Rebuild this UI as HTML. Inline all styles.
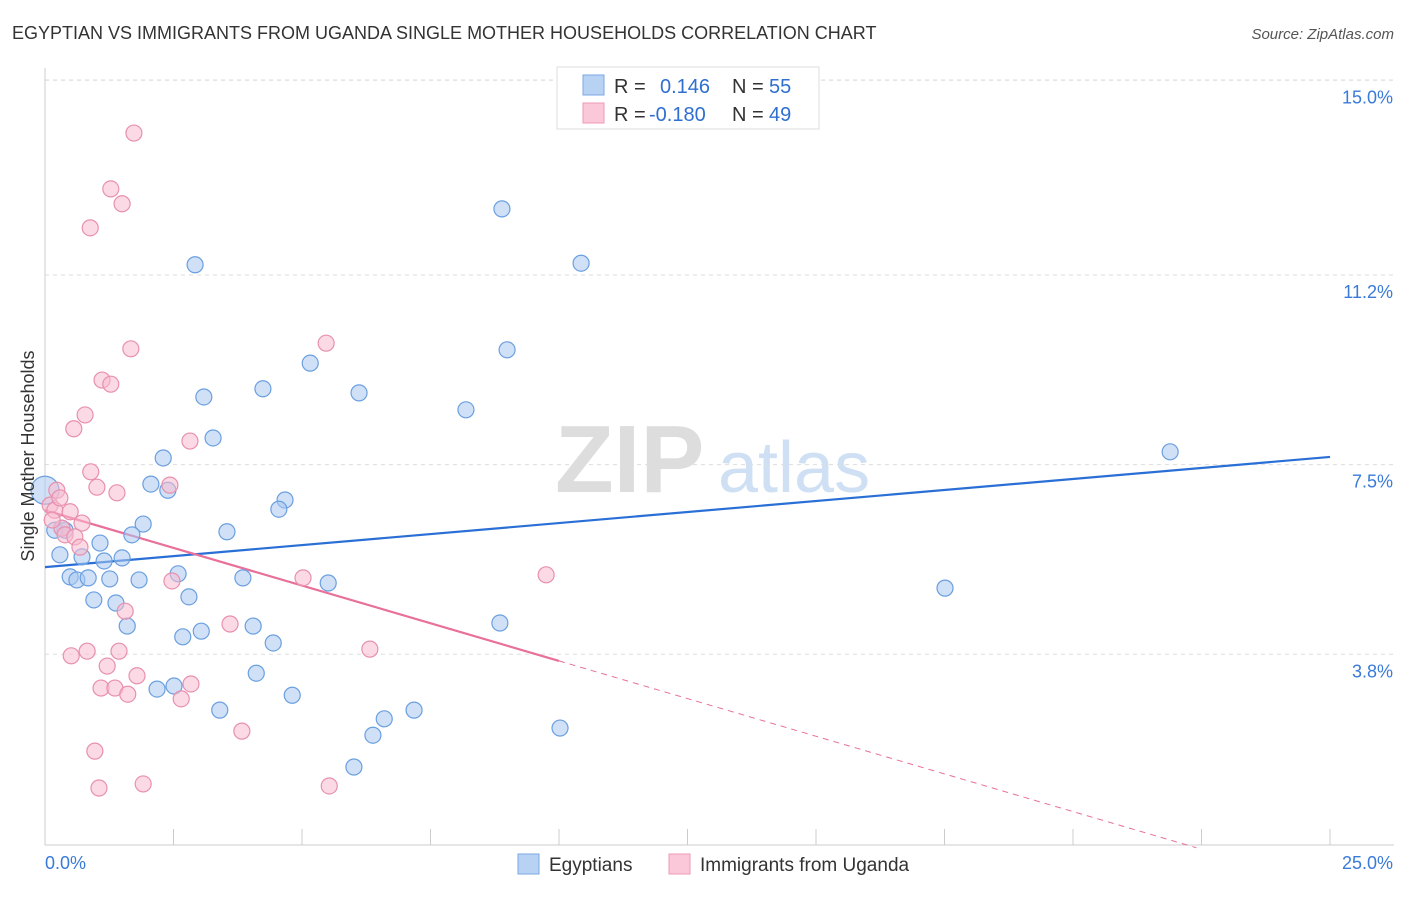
<!DOCTYPE html>
<html><head><meta charset="utf-8"><style>
body{margin:0;background:#fff;font-family:"Liberation Sans",sans-serif}
svg text{font-family:"Liberation Sans",sans-serif}
</style></head><body>
<svg id="chart" width="1406" height="892" xmlns="http://www.w3.org/2000/svg">
<text x="12" y="39" font-size="18" fill="#333">EGYPTIAN VS IMMIGRANTS FROM UGANDA SINGLE MOTHER HOUSEHOLDS CORRELATION CHART</text>
<text x="1394" y="39" font-size="15" fill="#555" text-anchor="end" font-style="italic">Source: ZipAtlas.com</text>
<g><text x="555" y="492" font-size="96" fill="#ddd" font-family="Liberation Serif" font-weight="bold">ZIP</text><text x="718" y="492" font-size="72" fill="#cfe0f5">atlas</text></g>
<g id="grid"></g><g id="axes"></g><g id="lines"></g><g id="pts"></g>
<text transform="translate(34,456) rotate(-90)" font-size="18" fill="#333" text-anchor="middle">Single Mother Households</text>
<g>
<rect x="557" y="67" width="262" height="62" fill="#fff" stroke="#ddd"/>
<rect x="583" y="75" width="21" height="20" fill="#b8d2f4" stroke="#7aa8e4"/>
<rect x="583" y="103" width="21" height="20" fill="#fac8d8" stroke="#ee9ab6"/>
<text x="614" y="93" font-size="20" fill="#333">R =</text><text x="660" y="93" font-size="20" fill="#2f6fd0">0.146</text>
<text x="732" y="93" font-size="20" fill="#333">N =</text><text x="769" y="93" font-size="20" fill="#2f6fd0">55</text>
<text x="614" y="121" font-size="20" fill="#333">R =</text><text x="649" y="121" font-size="20" fill="#2f6fd0">-0.180</text>
<text x="732" y="121" font-size="20" fill="#333">N =</text><text x="769" y="121" font-size="20" fill="#2f6fd0">49</text>
</g>
<g>
<rect x="518" y="854" width="21" height="20" fill="#b8d2f4" stroke="#7aa8e4"/>
<text x="549" y="871" font-size="19" fill="#333">Egyptians</text>
<rect x="669" y="854" width="21" height="20" fill="#fac8d8" stroke="#ee9ab6"/>
<text x="700" y="871" font-size="19" fill="#333">Immigrants from Uganda</text>
</g>
</svg>
<script>
const yTicks=[3.8,7.5,11.2,15.0];
const yTickLabels=["3.8%","7.5%","11.2%","15.0%"];
const xTickLabels=["0.0%","25.0%"];
const blueX=[8.89,10.43,2.92,8.99,5.16,4.24,6.11,3.09,8.19,21.89,3.27,2.30,2.06,2.39,4.67,4.55,1.91,3.54,1.69,0.39,0.19,0.33,0.0,1.07,0.29,0.72,1.15,1.50,0.49,0.62,0.84,1.26,1.83,2.59,3.85,5.51,17.51,0.95,2.80,1.38,1.60,4.05,2.68,3.04,4.44,8.85,4.11,2.18,2.51,4.81,3.40,7.18,6.60,6.38,10.02,6.01];
const blueY=[12.49,11.43,11.40,9.74,9.48,8.98,8.90,8.82,8.57,7.75,8.02,7.63,7.12,7.00,6.81,6.63,6.34,6.19,6.13,6.22,6.22,6.26,7.00,5.97,5.74,5.70,5.62,5.68,5.31,5.25,5.29,5.27,5.25,5.37,5.29,5.19,5.09,4.86,4.92,4.80,4.35,4.35,4.14,4.25,4.02,4.41,3.43,3.12,3.18,3.00,2.71,2.71,2.54,2.22,2.36,1.60];
const pinkX=[1.73,1.28,1.50,0.88,5.47,1.67,1.11,1.28,0.78,0.56,2.82,0.89,2.43,1.01,1.40,0.23,0.10,0.19,0.49,0.72,0.33,0.39,0.58,0.68,5.02,9.75,2.47,1.56,3.60,6.32,0.51,0.82,1.44,1.21,1.79,1.09,1.36,1.61,2.84,2.65,3.83,0.97,1.91,1.05,5.53,0.29,0.14];
const pinkY=[13.97,12.88,12.59,12.12,9.87,9.76,9.15,9.07,8.47,8.20,7.96,7.36,7.10,7.06,6.95,7.00,6.71,6.61,6.58,6.36,6.26,6.13,6.09,5.89,5.29,5.35,5.23,4.64,4.39,3.90,3.77,3.86,3.86,3.57,3.38,3.14,3.14,3.02,3.22,2.93,2.30,1.91,1.27,1.19,1.23,6.85,6.42];
const blueTrend=[5.50,7.65];
const pinkTrend=[6.61,-0.294];
const NS="http://www.w3.org/2000/svg";
const X=v=>45+v*51.4, Y=v=>849-v*51.25;
function mk(tag,attrs,parent){const e=document.createElementNS(NS,tag);for(const k in attrs)e.setAttribute(k,attrs[k]);document.getElementById(parent).appendChild(e);return e;}
let e=mk('line',{x1:45,x2:1394,y1:80,y2:80,stroke:'#ddd','stroke-dasharray':'4,4'},'grid');

yTicks.forEach((t,i)=>{
 let g=mk('line',{x1:45,x2:1394,y1:Y(t),y2:Y(t),stroke:'#ddd','stroke-dasharray':'4,4'},'grid');
 
 let l=mk('text',{x:1393,y:Y(t)+23,'font-size':18,fill:'#3a7ad8','text-anchor':'end'},'axes');l.textContent=yTickLabels[i];
 
});
let ax=mk('line',{x1:45,x2:1394,y1:845,y2:845,stroke:'#ccc'},'axes');

let ay=mk('line',{x1:45,x2:45,y1:68,y2:845,stroke:'#ccc'},'axes');

for(let i=0;i<=10;i++){let t=mk('line',{x1:X(i*2.5),x2:X(i*2.5),y1:829,y2:845,stroke:'#ccc'},'axes');
 }
let xl0=mk('text',{x:45,y:869,'font-size':18,fill:'#3a7ad8'},'axes');xl0.textContent=xTickLabels[0];

let xl1=mk('text',{x:1393,y:869,'font-size':18,fill:'#3a7ad8','text-anchor':'end'},'axes');xl1.textContent=xTickLabels[1];

function pts(xs,ys,fill,stroke,name){xs.forEach((x,i)=>{
 const big=(x<0.05)?14:8;
 let c=mk('circle',{cx:X(x),cy:Y(ys[i]),r:big,fill:fill,'fill-opacity':0.55,stroke:stroke,'stroke-width':1.2},'pts');
 });}
pts(blueX,blueY,'#a9c8f0','#6a9fe0','egyptians-point');
pts(pinkX,pinkY,'#f7bcd0','#e890ae','uganda-point');
let bl=mk('line',{x1:X(0),y1:Y(blueTrend[0]),x2:X(25),y2:Y(blueTrend[1]),stroke:'#2a6fd6','stroke-width':2.2},'lines');

const pv=x=>pinkTrend[0]+pinkTrend[1]*x;
let pl=mk('line',{x1:X(0),y1:Y(pv(0)),x2:X(10),y2:Y(pv(10)),stroke:'#e8709a','stroke-width':2.2},'lines');

let pd=mk('line',{x1:X(10),y1:Y(pv(10)),x2:X(22.4),y2:Y(pv(22.4)),stroke:'#e8709a','stroke-width':1,'stroke-dasharray':'6,5'},'lines');

</script>
</body></html>
